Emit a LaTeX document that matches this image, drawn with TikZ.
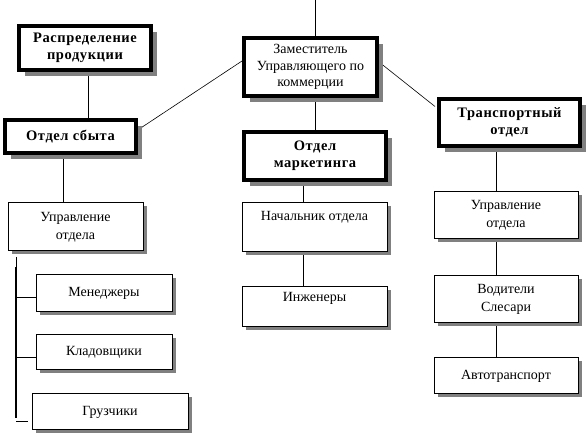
\documentclass[tikz,border=0pt]{standalone}
\usepackage{fontspec}
\setmainfont{Liberation Serif}
\newfontfamily\widebold[LetterSpace=4]{Liberation Serif}
\usetikzlibrary{shadows,backgrounds}
\begin{document}
\begin{tikzpicture}[x=1pt,y=-1pt,
  tbox/.style={draw=black,line width=1pt,fill=white,rectangle,inner sep=0pt,align=center,
    font=\fontsize{14}{18}\selectfont,
    drop shadow={shadow xshift=3.5pt,shadow yshift=-3.5pt,fill=gray,opacity=1}},
  bbox/.style={draw=black,line width=4pt,fill=white,rectangle,inner sep=0pt,align=center,
    font=\widebold\fontsize{14.5}{17}\selectfont\bfseries,
    drop shadow={shadow xshift=6pt,shadow yshift=-6pt,fill=gray,opacity=1}},
  conn/.style={line width=1pt,black},
  thinconn/.style={line width=0.6pt,black}]
\useasboundingbox (0,0) rectangle (587,435);
% thick boxes
\node[bbox,minimum width=132pt,minimum height=44pt] (rasp) at (85,48) {Распределение\\продукции};
\node[bbox,minimum width=131pt,minimum height=33pt] (sbyt) at (70.5,136.5) {Отдел сбыта};
\node[bbox,minimum width=133pt,minimum height=58pt,font=\fontsize{14}{16.5}\selectfont] (zam) at (310.5,67) {Заместитель\\Управляющего по\\коммерции};
\node[bbox,minimum width=142pt,minimum height=48pt] (mark) at (315,156) {Отдел\\маркетинга};
\node[bbox,minimum width=141pt,minimum height=47pt] (trans) at (509.5,122.5) {Транспортный\\отдел};
% thin boxes
\node[tbox,minimum width=135pt,minimum height=48pt] (upr1) at (75.5,227) {Управление\\отдела};
\node[tbox,minimum width=136pt,minimum height=37pt] (men) at (104,293.5) {Менеджеры};
\node[tbox,minimum width=136pt,minimum height=35pt] (klad) at (104,352.5) {Кладовщики};
\node[tbox,minimum width=156pt,minimum height=36pt] (gruz) at (110,412) {Грузчики};
\node[tbox,minimum width=145pt,minimum height=49pt] (nach) at (314.5,227.5) {Начальник отдела\\\strut};
\node[tbox,minimum width=145pt,minimum height=40pt] (inzh) at (314.5,307) {Инженеры\\[-4pt]\strut};
\node[tbox,minimum width=144pt,minimum height=47pt] (upr2) at (506,215.5) {Управление\\отдела};
\node[tbox,minimum width=144pt,minimum height=47pt] (vod) at (506,299.5) {Водители\\Слесари};
\node[tbox,minimum width=144pt,minimum height=36pt] (avto) at (506,376) {Автотранспорт};
% helper coordinates
\coordinate (topc) at (315,0);
\coordinate (rx) at (88,0);
\coordinate (sx) at (63,0);
\coordinate (mx) at (303,0);
\coordinate (tx) at (496,0);
\coordinate (bx) at (16,0);
\coordinate (b1) at (16,257);
\coordinate (b2) at (16,267);
\coordinate (b3) at (16,418);
\coordinate (s1) at (16,422);
\coordinate (s2) at (28,422);
\begin{scope}[on background layer]
\draw[conn] (topc) -- (topc |- zam.north);
\draw[conn] (zam.south -| mark.north) -- (mark.north);
\draw[conn] (rasp.south -| rx) -- (sbyt.north -| rx);
\draw[thinconn] ([xshift=2pt,yshift=8pt]sbyt.east) -- ([yshift=6pt]zam.west);
\draw[thinconn] ([yshift=5pt]zam.east) -- ([xshift=-2pt,yshift=16pt]trans.west);
\draw[conn] (sbyt.south -| sx) -- (upr1.north -| sx);
\draw[conn] (mark.south -| mx) -- (nach.north -| mx);
\draw[conn] (nach.south -| mx) -- (inzh.north -| mx);
\draw[conn] (trans.south -| tx) -- (upr2.north -| tx);
\draw[conn] (upr2.south -| tx) -- (vod.north -| tx);
\draw[conn] (vod.south -| tx) -- (avto.north -| tx);
\draw[conn] (b1) -- (b2);
\draw[line width=2.2pt] (b2) -- (b3);
\draw[conn] (s1) -- (s2);
\draw[conn] ([yshift=-4.5pt]men.west -| bx) -- ([xshift=4pt,yshift=-4.5pt]men.west);
\draw[conn] ([yshift=-5.5pt]klad.west -| bx) -- ([xshift=4pt,yshift=-5.5pt]klad.west);
\end{scope}
\end{tikzpicture}
\end{document}
